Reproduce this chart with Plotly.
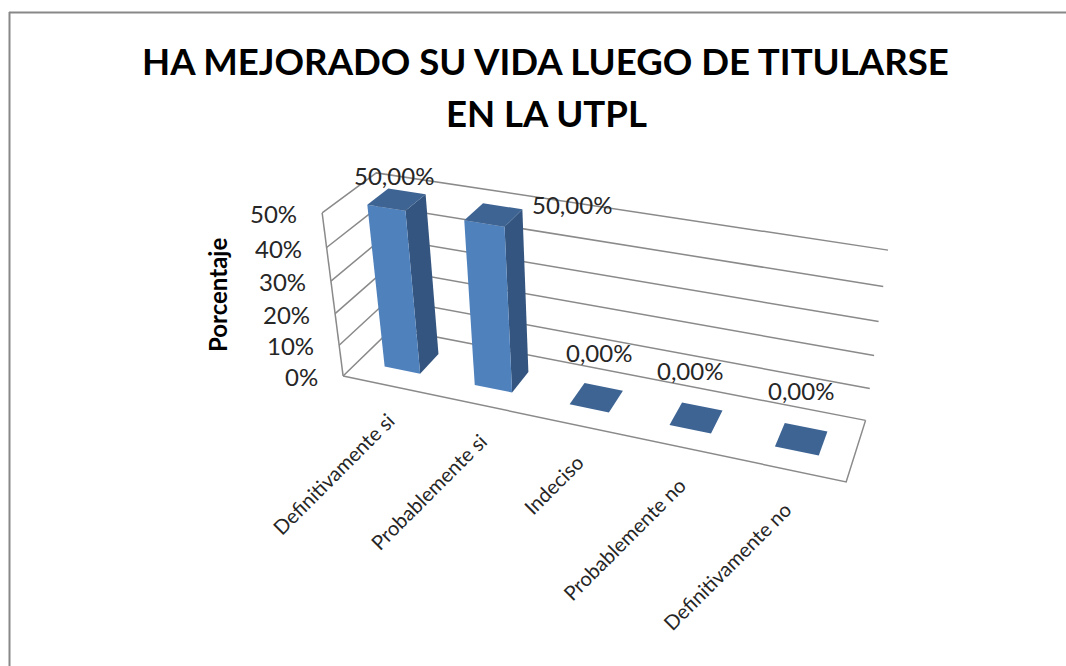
import numpy as np
import plotly.graph_objects as go

# ---- data ----
title_lines = ["HA MEJORADO SU VIDA LUEGO DE TITULARSE", "EN LA UTPL"]
categories = ["Definitivamente si", "Probablemente si", "Indeciso", "Probablemente no", "Definitivamente no"]
values = [50, 50, 0, 0, 0]
value_labels = ["50,00%", "50,00%", "0,00%", "0,00%", "0,00%"]
tick_values = [0, 10, 20, 30, 40, 50]
tick_labels = ["0%", "10%", "20%", "30%", "40%", "50%"]
axis_title = "Porcentaje"

# ---- perspective camera: calibrated from landmarks (cat, depth, value) -> page px ----
calib = [
    ((0, 0, 0), (343, 377)), ((0, 0, 50), (322, 212)),
    ((5, 1, 0), (866, 420)), ((5, 1, 50), (888, 250)), ((5, 0, 0), (846, 482)),
    ((5, 1, 10), (870, 388)), ((5, 1, 20), (874, 356)), ((5, 1, 30), (879, 322)), ((5, 1, 40), (883, 286)),
    ((.3, .3, 50), (367, 205)), ((.7, .3, 50), (406, 211)), ((.7, .3, 0), (420, 373)), ((.3, .3, 0), (385, 367)),
    ((.7, .7, 50), (426, 195)), ((.7, .7, 0), (438, 353)), ((.3, .7, 50), (388, 189)),
    ((1.3, .3, 50), (464, 220)), ((1.7, .3, 50), (505, 226)), ((1.7, .3, 0), (512, 392)), ((1.3, .3, 0), (475, 385)),
    ((1.7, .7, 50), (522, 210)), ((1.7, .7, 0), (528, 372)), ((1.3, .7, 50), (483, 203)),
    ((2.3, .3, 0), (570, 404)), ((2.7, .3, 0), (609, 412)), ((2.7, .7, 0), (623, 391)), ((2.3, .7, 0), (585, 383)),
    ((3.3, .3, 0), (670, 425)), ((3.7, .3, 0), (711, 433)), ((3.7, .7, 0), (722, 410)), ((3.3, .7, 0), (682, 403)),
    ((4.3, .3, 0), (775, 447)), ((4.7, .3, 0), (818, 456)), ((4.7, .7, 0), (827, 432)), ((4.3, .7, 0), (785, 423)),
]
A = []
for (X, Y, Z), (u, v) in calib:
    A.append([X, Y, Z, 1, 0, 0, 0, 0, -u * X, -u * Y, -u * Z, -u])
    A.append([0, 0, 0, 0, X, Y, Z, 1, -v * X, -v * Y, -v * Z, -v])
P = np.linalg.svd(np.array(A, float))[2][-1].reshape(3, 4)


def proj(x, d, z):
    h = P @ np.array([x, d, z, 1.0])
    return float(h[0] / h[2]), float(h[1] / h[2])


def poly(pts):
    xy = [proj(*p) for p in pts + pts[:1]]
    return [a for a, _ in xy], [b for _, b in xy]


fig = go.Figure()
GRID = "#8a8a8a"
TEXT = "#262626"
FONT = "Lato"


def line(pts, name):
    xy = [proj(*p) for p in pts]
    fig.add_trace(go.Scatter(x=[a for a, _ in xy], y=[b for _, b in xy], mode="lines", name=name,
                             line=dict(color=GRID, width=1.5), hoverinfo="skip"))


# gridlines on the two walls
for t in tick_values:
    line([(0, 0, t), (0, 1, t), (5, 1, t)], f"grid {t}")
line([(0, 0, 0), (0, 0, max(tick_values))], "wall edge")
line([(0, 0, 0), (5, 0, 0), (5, 1, 0)], "floor edge")

# bars
BAR_W, BAR_D0, BAR_D1 = 0.4, 0.3, 0.7
FRONT, SIDE, TOP = "#4F81BD", "#34557F", "#3E6494"
for i, (cat, val) in enumerate(zip(categories, values)):
    x0 = i + 0.5 - BAR_W / 2
    x1 = i + 0.5 + BAR_W / 2
    faces = []
    if val > 0:
        faces.append(([(x1, BAR_D0, 0), (x1, BAR_D1, 0), (x1, BAR_D1, val), (x1, BAR_D0, val)], SIDE))
        faces.append(([(x0, BAR_D0, 0), (x1, BAR_D0, 0), (x1, BAR_D0, val), (x0, BAR_D0, val)], FRONT))
    faces.append(([(x0, BAR_D0, val), (x1, BAR_D0, val), (x1, BAR_D1, val), (x0, BAR_D1, val)], TOP))
    for pts, col in faces:
        xs, ys = poly(pts)
        fig.add_trace(go.Scatter(x=xs, y=ys, mode="lines", fill="toself", fillcolor=col,
                                 line=dict(width=0, color=col), name=cat, hoverinfo="skip"))

# value labels
label_centers = [(394, 175), (572, 204), (599, 352), (690, 370), (801, 390)]
for (cx, cy), lab in zip(label_centers, value_labels):
    fig.add_annotation(x=cx, y=cy, text=lab, showarrow=False,
                       font=dict(family=FONT, size=24, color=TEXT), xanchor="center", yanchor="middle")

# value-axis tick labels follow the wall's front edge
for t, lab in zip(tick_values, tick_labels):
    px, py = proj(0, 0, t)
    fig.add_annotation(x=px - 23, y=py + 0.5, text=lab, showarrow=False, xanchor="right", yanchor="middle",
                       font=dict(family=FONT, size=24, color=TEXT))

# category labels, rotated
cat_centers = [(333, 474), (428, 492), (553, 485), (624, 539), (727, 566)]
for (cx, cy), cat in zip(cat_centers, categories):
    fig.add_annotation(x=cx, y=cy, text=cat, showarrow=False, textangle=-45, xanchor="center", yanchor="middle",
                       font=dict(family=FONT, size=20.2, color=TEXT))

fig.add_annotation(x=217, y=295, text=f"<b>{axis_title}</b>", showarrow=False, textangle=-90,
                   font=dict(family=FONT, size=24, color="#000000"))
fig.add_annotation(x=545, y=61, text=f"<b>{title_lines[0]}</b>", showarrow=False,
                   font=dict(family=FONT, size=36.6, color="#000000"))
fig.add_annotation(x=546, y=113, text=f"<b>{title_lines[1]}</b>", showarrow=False,
                   font=dict(family=FONT, size=36.6, color="#000000"))

# picture frame (cropped on the right and bottom)
fig.add_shape(type="line", x0=9.5, x1=9.5, y0=12, y1=666, line=dict(color="#888888", width=2))
fig.add_shape(type="line", x0=9, x1=1066, y0=12.5, y1=12.5, line=dict(color="#888888", width=2))

fig.update_layout(width=1066, height=666, autosize=False, margin=dict(l=0, r=0, t=0, b=0),
                  paper_bgcolor="white", plot_bgcolor="white", showlegend=False,
                  xaxis=dict(range=[0, 1066], visible=False, fixedrange=True),
                  yaxis=dict(range=[666, 0], visible=False, fixedrange=True))
fig.write_html("out.html", post_script="document.body.style.margin='0';",
               config=dict(displayModeBar=False))
